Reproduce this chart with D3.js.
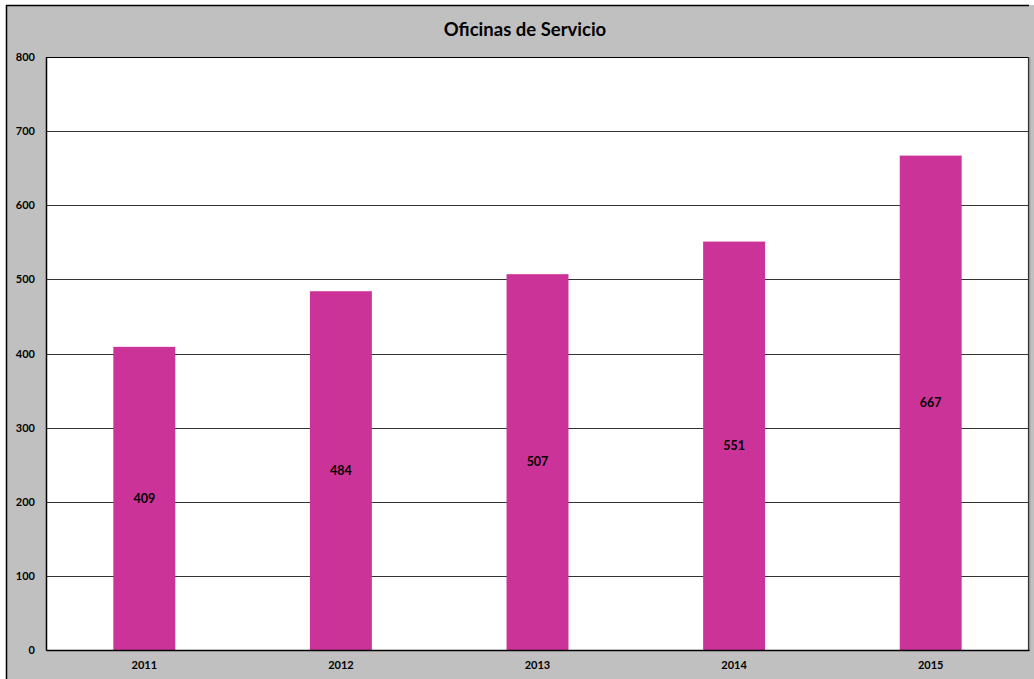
<!DOCTYPE html>
<html>
<head>
<meta charset="utf-8">
<script src="https://cdn.jsdelivr.net/npm/d3@7"></script>
<style>
  html, body { margin: 0; padding: 0; background: #ffffff; }
  svg { display: block; }
</style>
</head>
<body>
<svg id="chart" width="1034" height="679"></svg>
<script>
// Service offices per year
const years = ["2011", "2012", "2013", "2014", "2015"];
const offices = [409, 484, 507, 551, 667];
const yTicks = [0, 100, 200, 300, 400, 500, 600, 700, 800];
const chartTitle = "Oficinas de Servicio";

const W = 1034, H = 679;
const plot = { left: 46, top: 57, right: 1029, bottom: 650 };
const font = "Lato, 'Open Sans', 'Liberation Sans', sans-serif";

const svg = d3.select("#chart");

// Grey chart background with a dark frame on the left and top
svg.append("rect").attr("x", 6).attr("y", 5).attr("width", W).attr("height", H)
  .attr("fill", "#c0c0c0");
svg.append("line").attr("x1", 6).attr("x2", 1029).attr("y1", 5.5).attr("y2", 5.5)
  .attr("stroke", "#000").attr("stroke-width", 1.5);
svg.append("line").attr("x1", 6.5).attr("x2", 6.5).attr("y1", 5).attr("y2", H)
  .attr("stroke", "#000").attr("stroke-width", 1.5);

const x = d3.scaleBand().domain(years).range([plot.left, plot.right]).paddingInner(0.685).paddingOuter(0.3425);
const y = d3.scaleLinear().domain([0, 800]).range([plot.bottom, plot.top]);

// White plot area
svg.append("rect").attr("x", plot.left).attr("y", plot.top)
  .attr("width", plot.right - plot.left).attr("height", plot.bottom - plot.top)
  .attr("fill", "#ffffff");

// Horizontal gridlines
svg.append("g").selectAll("line").data(yTicks.filter(d => d > 0 && d < 800)).join("line")
  .attr("x1", plot.left).attr("x2", plot.right)
  .attr("y1", d => Math.round(y(d)) + 0.5).attr("y2", d => Math.round(y(d)) + 0.5)
  .attr("stroke", "#333").attr("stroke-width", 1);

// Bars
svg.append("g").selectAll("rect").data(years).join("rect")
  .attr("x", d => x(d)).attr("width", x.bandwidth())
  .attr("y", (d, i) => y(offices[i]))
  .attr("height", (d, i) => y(0) - y(offices[i]))
  .attr("fill", "#cc3399");

// Value labels centred in each bar
svg.append("g").selectAll("text").data(years).join("text")
  .attr("x", d => x(d) + x.bandwidth() / 2)
  .attr("y", (d, i) => (y(offices[i]) + y(0)) / 2)
  .attr("dy", "0.35em").attr("text-anchor", "middle")
  .attr("font-family", font).attr("font-weight", "bold").attr("font-size", 12.5)
  .attr("fill", "#000")
  .text((d, i) => offices[i]);

// Plot frame: top, left and bottom dark, right grey
svg.append("line").attr("x1", plot.left).attr("x2", plot.right).attr("y1", plot.top + 0.5).attr("y2", plot.top + 0.5)
  .attr("stroke", "#000").attr("stroke-width", 1);
svg.append("line").attr("x1", plot.right - 0.5).attr("x2", plot.right - 0.5).attr("y1", plot.top).attr("y2", plot.bottom)
  .attr("stroke", "#333").attr("stroke-width", 1.2);
svg.append("line").attr("x1", plot.right + 0.8).attr("x2", plot.right + 0.8).attr("y1", plot.top).attr("y2", plot.bottom + 1)
  .attr("stroke", "#8a8a8a").attr("stroke-width", 1);

// Y axis
const yAxis = svg.append("g").attr("transform", `translate(${plot.left},0)`)
  .call(d3.axisLeft(y).tickValues(yTicks).tickSize(0).tickPadding(11));
yAxis.select(".domain").attr("stroke", "#000").attr("stroke-width", 1.5);
yAxis.selectAll("text").attr("font-family", font).attr("font-weight", "bold")
  .attr("font-size", 11).attr("fill", "#000");

// X axis
const xAxis = svg.append("g").attr("transform", `translate(0,${plot.bottom})`)
  .call(d3.axisBottom(x).tickSize(0).tickPadding(11));
xAxis.select(".domain").attr("stroke", "#000").attr("stroke-width", 1.5);
xAxis.selectAll("text").attr("font-family", font).attr("font-weight", "bold")
  .attr("font-size", 11).attr("fill", "#000");

// Title
svg.append("text").attr("x", 525).attr("y", 30).attr("dy", "0.35em")
  .attr("text-anchor", "middle").attr("font-family", font)
  .attr("font-weight", "bold").attr("font-size", 18.5).attr("fill", "#000")
  .text(chartTitle);
</script>
</body>
</html>
